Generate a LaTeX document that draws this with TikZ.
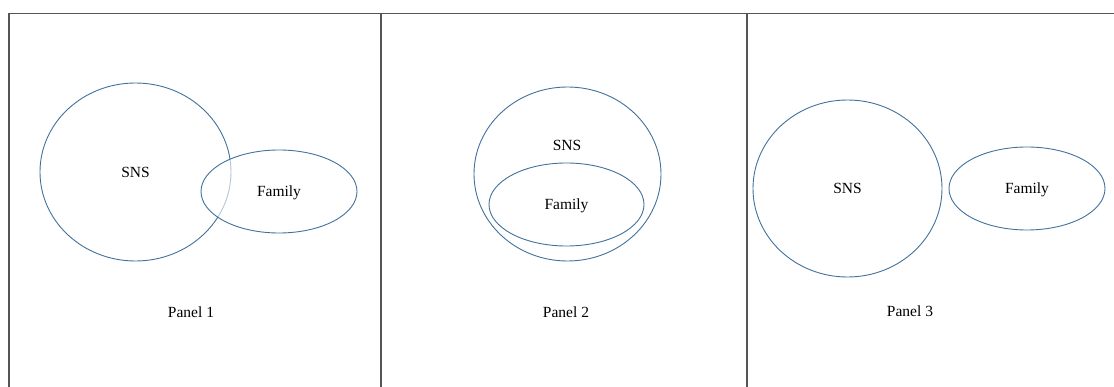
\documentclass[tikz,border=0pt]{standalone}
\usepackage{fontspec}
\setmainfont{Liberation Serif}
\usetikzlibrary{shapes.geometric}
\definecolor{vennBlue}{RGB}{65,113,156}
\definecolor{frameGray}{RGB}{85,85,85}
\newcommand\circleColor{vennBlue}
\newcommand\circleLineWidth{0.9pt}
\newcommand\frameColor{frameGray}
\newcommand\frameLineWidth{1.2pt}
\newcommand\labelFont{\fontsize{15.5}{18}\selectfont}
\tikzset{
    vennSet/.style={draw=\circleColor, line width=\circleLineWidth, shape=ellipse, inner sep=0pt, text depth=0pt},
    panelLine/.style={draw=\frameColor, line width=\frameLineWidth}
}

\begin{document}
\begin{tikzpicture}[x=1pt, y=-1pt, font=\labelFont]
    \useasboundingbox (0,0) rectangle (1114,387);

    % frame: top line, left edge and the two separators
    \draw [panelLine] (9,387) -- (9,13.5) -- (1114,13.5);
    \foreach \x in {381,747}{
        \draw [panelLine] (\x,13.5) -- (\x,387);
    }

    % Panel 1: overlapping sets
    \node [vennSet, minimum width=191pt, minimum height=178pt] (Panel1_SNS) at (135.5,172) {SNS};
    \node [vennSet, minimum width=156pt, minimum height=83pt, fill=white, fill opacity=0.6, text opacity=1] (Panel1_Family) at (279,191.5) {Family};
    \node (Panel1_Label) at (191,312) {Panel 1};

    % Panel 2: family inside SNS
    \node [vennSet, minimum width=187pt, minimum height=174pt] (Panel2_SNS) at (567.5,174) {};
    \node (Panel2_SNSText) at (567,145) {SNS};
    \node [vennSet, minimum width=155pt, minimum height=83pt] (Panel2_Family) at (566.5,204.5) {Family};
    \node (Panel2_Label) at (566,312) {Panel 2};

    % Panel 3: separate sets
    \node [vennSet, minimum width=189pt, minimum height=177pt] (Panel3_SNS) at (847.5,188.5) {SNS};
    \node [vennSet, minimum width=156pt, minimum height=83pt] (Panel3_Family) at (1027,188.5) {Family};
    \node (Panel3_Label) at (910,311) {Panel 3};

\end{tikzpicture}
\end{document}
